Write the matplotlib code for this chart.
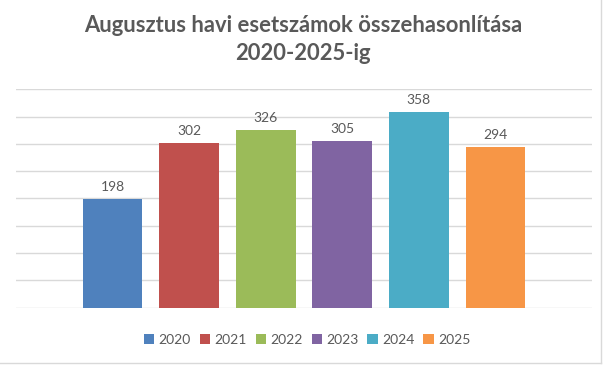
import matplotlib.pyplot as plt
from matplotlib.lines import Line2D
from matplotlib.patches import Patch

years = ["2020", "2021", "2022", "2023", "2024", "2025"]
cases = [198, 302, 326, 305, 358, 294]
colors = ["#4F81BD", "#C0504D", "#9BBB59", "#8064A2", "#4BACC6", "#F79646"]

plt.rcParams["font.family"] = ["Lato", "DejaVu Sans"]
text_color = "#595959"

fig = plt.figure(figsize=(6.1, 3.66), dpi=100)
ax = fig.add_axes([16 / 610, 58.5 / 366, 576 / 610, 218.2 / 366])

x = range(len(years))
bars = ax.bar(x, cases, width=0.783, color=colors, zorder=2)
for b, v in zip(bars, cases):
    ax.text(b.get_x() + b.get_width() / 2, v + 22, str(v), ha="center", va="center",
            fontsize=10, color=text_color)

ax.set_xlim(2.5 - 3.76, 2.5 + 3.76)
ax.set_ylim(0, 400)
ax.set_yticks(range(0, 401, 50))
ax.yaxis.grid(True, color="#D9D9D9", linewidth=1, zorder=0)
ax.tick_params(left=False, bottom=False, labelleft=False, labelbottom=False)
for s in ax.spines.values():
    s.set_visible(False)

fig.text(303 / 610, 1 - 26 / 366, "Augusztus havi esetszámok összehasonlítása", ha="center", va="center",
         fontsize=15.8, fontweight="bold", color=text_color)
fig.text(303 / 610, 1 - 53.5 / 366, "2020-2025-ig", ha="center", va="center",
         fontsize=15.8, fontweight="bold", color=text_color)

handles = [Patch(facecolor=c, edgecolor="none") for c in colors]
fig.legend(handles, years, loc="center", bbox_to_anchor=(307 / 610, 1 - 340 / 366), ncol=6,
           frameon=False, fontsize=10, labelcolor=text_color, handlelength=0.75,
           handleheight=0.75, handletextpad=0.3, columnspacing=0.65)

# light border of the chart area
fig.add_artist(Line2D([601 / 610, 601 / 610], [1 - 363 / 366, 1], color="#D9D9D9", lw=1))
fig.add_artist(Line2D([0, 601 / 610], [1 - 363 / 366, 1 - 363 / 366], color="#D9D9D9", lw=1))

fig.savefig("out.png", dpi=100)
